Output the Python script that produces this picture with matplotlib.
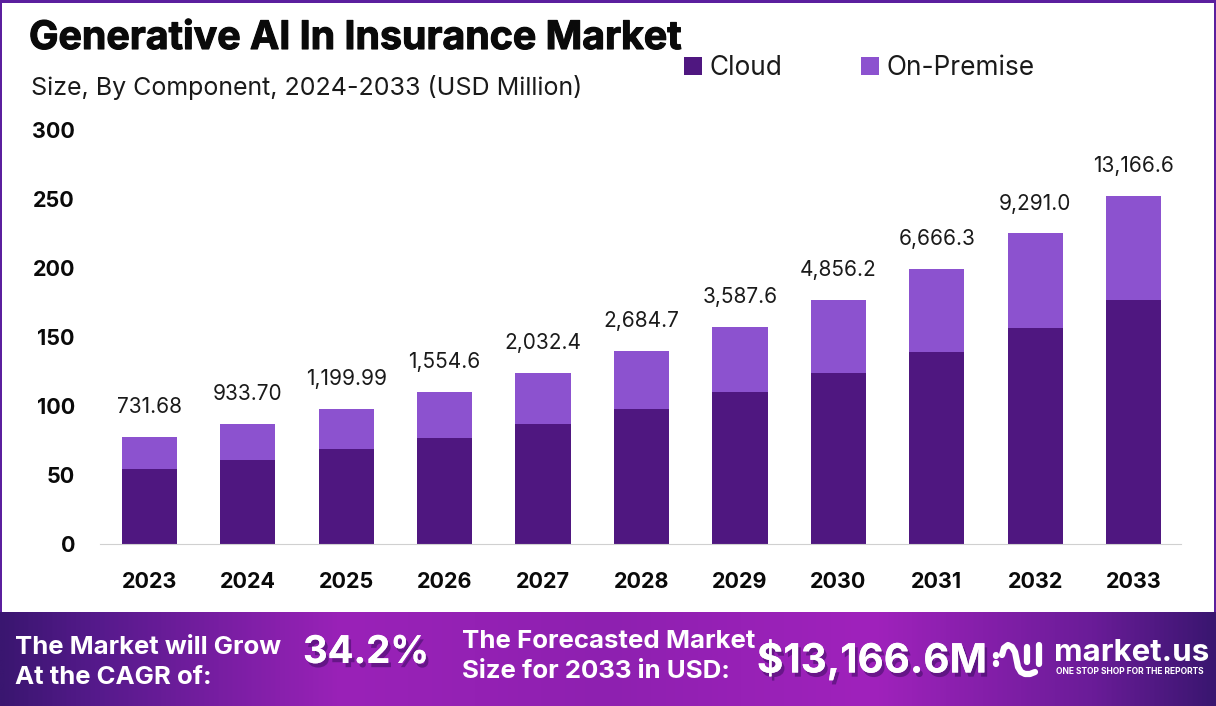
import matplotlib
matplotlib.use('Agg')
import matplotlib.pyplot as plt
import matplotlib.patheffects as pe
from matplotlib.colors import LinearSegmentedColormap
from matplotlib.patches import Rectangle
import numpy as np

years = ['2023', '2024', '2025', '2026', '2027', '2028', '2029', '2030', '2031', '2032', '2033']
cloud = [54, 61, 69, 77, 87, 98, 110, 124, 139, 156.5, 177]
on_premise = [23.5, 26, 29, 33, 37, 42, 47, 53, 60, 68.5, 75]
totals_text = ['731.68', '933.70', '1,199.99', '1,554.6', '2,032.4', '2,684.7',
               '3,587.6', '4,856.2', '6,666.3', '9,291.0', '13,166.6']
yticks = [0, 50, 100, 150, 200, 250, 300]

W, H = 1216, 706
plt.rcParams['font.family'] = ['Inter', 'DejaVu Sans']

fig = plt.figure(figsize=(W / 100, H / 100), dpi=100)

# whole figure in pixel coordinates for frame, banner and titles
bg = fig.add_axes([0, 0, 1, 1])
bg.set_xlim(0, W)
bg.set_ylim(H, 0)
bg.axis('off')

cmap = LinearSegmentedColormap.from_list('band', [(0, '#3a1670'), (0.08, '#561a8c'), (0.28, '#9a22b8'),
                                                  (0.5, '#8e20b0'), (0.72, '#a022bc'), (0.9, '#6a1c98'),
                                                  (1, '#3a1670')])
bg.imshow(np.linspace(0, 1, 512).reshape(1, -1), cmap=cmap, extent=[0, W, 706, 612], aspect='auto')
bg.set_xlim(0, W)
bg.set_ylim(H, 0)

frame = '#5b1f9e'
bg.add_patch(Rectangle((0, 0), W, 2.5, color=frame, lw=0))
bg.add_patch(Rectangle((0, 0), 2, 612, color=frame, lw=0))
bg.add_patch(Rectangle((W - 2, 0), 2, 612, color=frame, lw=0))

thick = [pe.withStroke(linewidth=0.8, foreground='#0a0a0a')]
bg.text(29, 38.5, 'Generative AI In Insurance Market', fontsize=28.3, fontweight='bold', color='#0a0a0a',
        va='center', path_effects=thick)
bg.text(31, 87, 'Size, By Component, 2024-2033 (USD Million)', fontsize=18, color='#1a1a1a', va='center')

shadow = [pe.withSimplePatchShadow(offset=(2, -3), shadow_rgbFace='#2a0a50', alpha=0.45), pe.Normal()]
white = dict(color='white', fontweight='bold', va='center')
bg.text(15, 648, 'The Market will Grow', fontsize=18.5, **white)
bg.text(15, 678, 'At the CAGR of:', fontsize=18.5, **white)
bg.text(303, 653, '34.2%', fontsize=27.5, path_effects=shadow, **white)
bg.text(462, 642, 'The Forecasted Market', fontsize=18.6, **white)
bg.text(462, 672, 'Size for 2033 in USD:', fontsize=18.6, **white)
bg.text(757, 660, '$13,166.6M', fontsize=29, path_effects=shadow, **white)

# market.us logo
logo_x = [1002, 1004, 1008, 1012, 1015, 1018, 1021, 1025, 1030, 1035]
logo_y = [655, 648, 645, 647, 652, 667, 672, 674, 674, 672]
logo = dict(color='white', lw=4.5, solid_capstyle='round', solid_joinstyle='round')
bg.plot(logo_x, logo_y, **logo)
bg.plot([1027, 1027], [647, 662], **logo)
bg.plot([1039, 1039], [645, 664], **logo)
bg.plot([996, 996], [655, 656], **logo)
bg.plot([996, 996], [663, 664], **logo)
bg.text(1054, 653, 'market.us', fontsize=22.5, **white)
bg.text(1056, 671, 'ONE STOP SHOP FOR THE REPORTS', fontsize=6.1, **white)

# chart area
ax = fig.add_axes([100 / W, 1 - 544 / H, 1081 / W, 414 / H])
ax.patch.set_alpha(0)
x = np.arange(len(years))
b1 = ax.bar(x, cloud, width=0.56, color='#4f1780', label='Cloud')
b2 = ax.bar(x, on_premise, width=0.56, bottom=cloud, color='#8c52cf', label='On-Premise')

for i, label in enumerate(totals_text):
    ax.annotate(label, (x[i], cloud[i] + on_premise[i]), xytext=(0, 20), textcoords='offset pixels',
                ha='center', va='bottom', fontsize=15, color='#1a1a1a')

ax.set_xlim(-0.5, 10.48)
ax.set_ylim(0, 300)
ax.set_xticks(x, years)
ax.set_yticks(yticks)
ax.tick_params(length=0)
ax.tick_params(axis='x', pad=20, labelsize=15.5, labelcolor='#0a0a0a')
ax.tick_params(axis='y', pad=18, labelsize=15.5, labelcolor='#0a0a0a')
for t in ax.get_xticklabels() + ax.get_yticklabels():
    t.set_fontweight('bold')
for s in ['top', 'right', 'left']:
    ax.spines[s].set_visible(False)
ax.spines['bottom'].set_color('#d0d0d0')

fig.legend(handles=[b1, b2], loc='center left', bbox_to_anchor=(684 / W, 1 - 68 / H), ncol=2, frameon=False,
           fontsize=18.9, handlelength=0.67, handleheight=0.67, handletextpad=0.3, columnspacing=3.0,
           borderpad=0, borderaxespad=0, labelcolor='#1a1a1a')

fig.savefig('out.png', dpi=100)
